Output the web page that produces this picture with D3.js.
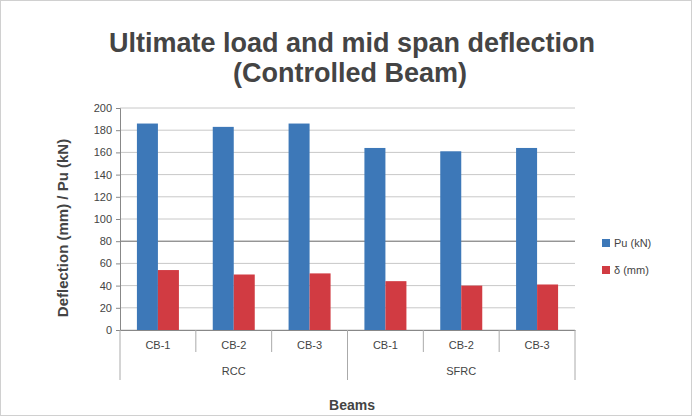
<!DOCTYPE html>
<html><head><meta charset="utf-8">
<script src="https://cdn.jsdelivr.net/npm/d3@7"></script>
<style>body{margin:0;background:#fff;font-family:"Liberation Sans",Arial,sans-serif;}</style>
</head><body><svg id="c" width="693" height="417"></svg>
<script>
const categories = ["CB-1","CB-2","CB-3","CB-1","CB-2","CB-3"];
const groups = ["RCC","SFRC"];
const seriesNames = ["Pu (kN)","\u03B4 (mm)"];
const loadValues = [186,183,186,164,161,164];
const deflValues = [54,50,51,44,40,41];
const yTicks = [0,20,40,60,80,100,120,140,160,180,200];
const colors = ["#3d78b8","#d13b42"];

const svg = d3.select("#c");
svg.append("rect").attr("x",0.5).attr("y",0.5).attr("width",691).attr("height",415)
  .attr("fill","#fff").attr("stroke","#d0d0d0");

const m = {l:120,r:575,t:108,b:330};
const x = d3.scaleBand().domain(d3.range(categories.length)).range([m.l,m.r]).padding(0);
const y = d3.scaleLinear().domain([0,200]).range([m.b,m.t]);
const inner = d3.scaleBand().domain([0,1]).range([0,42]);

// gridlines
svg.append("g").selectAll("line").data(yTicks).join("line")
  .attr("x1",m.l).attr("x2",m.r).attr("y1",d=>y(d)).attr("y2",d=>y(d))
  .attr("stroke",d=>d===80?"#666":"#c8c8c8").attr("stroke-width",1);

// y axis
const ya = svg.append("g").attr("transform",`translate(${m.l},0)`)
  .call(d3.axisLeft(y).tickValues(yTicks).tickSize(4).tickPadding(4));
ya.select(".domain").attr("stroke","#888");
ya.selectAll(".tick line").attr("stroke","#888");
ya.selectAll("text").attr("font-size",11).attr("fill","#444");

// bars
const series = [loadValues, deflValues];
series.forEach((vals,si)=>{
  svg.append("g").selectAll("rect").data(vals).join("rect")
    .attr("x",(d,i)=>x(i)+(x.bandwidth()-42)/2+inner(si))
    .attr("y",d=>y(d)).attr("width",inner.bandwidth()).attr("height",d=>y(0)-y(d))
    .attr("fill",colors[si]);
});

// x axis
const xa = svg.append("g").attr("transform",`translate(0,${m.b})`)
  .call(d3.axisBottom(x).tickFormat(i=>categories[i]).tickSize(0).tickPadding(11));
xa.select(".domain").attr("stroke","#888");
xa.selectAll("text").attr("font-size",11).attr("fill","#444");
// category separators
svg.append("g").selectAll("line").data(d3.range(categories.length+1)).join("line")
  .attr("x1",i=>m.l+i*x.step()).attr("x2",i=>m.l+i*x.step())
  .attr("y1",m.b).attr("y2",i=>(i%3===0)?m.b+50:m.b+22).attr("stroke","#aaa");
// group labels
svg.append("g").selectAll("text").data(groups).join("text")
  .attr("x",(g,gi)=>x(gi*3)+1.5*x.step()).attr("y",m.b+45)
  .attr("text-anchor","middle").attr("font-size",11).attr("fill","#444").text(d=>d);

// axis titles
svg.append("text").attr("x",352).attr("y",410).attr("text-anchor","middle")
  .attr("font-size",14).attr("font-weight","bold").attr("fill","#444").text("Beams");
svg.append("text").attr("transform","translate(68,228) rotate(-90)").attr("text-anchor","middle")
  .attr("font-size",15).attr("font-weight","bold").attr("fill","#444").text("Deflection (mm) / Pu (kN)");

// title
svg.append("text").attr("x",352).attr("y",52).attr("text-anchor","middle")
  .attr("font-size",27).attr("font-weight","bold").attr("fill","#444").text("Ultimate load and mid span deflection");
svg.append("text").attr("x",350).attr("y",82).attr("text-anchor","middle")
  .attr("font-size",27).attr("font-weight","bold").attr("fill","#444").text("(Controlled Beam)");

// legend
const lg = svg.append("g").selectAll("g").data(seriesNames).join("g")
  .attr("transform",(d,i)=>`translate(602,${243+i*27})`);
lg.append("rect").attr("x",0).attr("y",-4).attr("width",8).attr("height",8).attr("fill",(d,i)=>colors[i]);
lg.append("text").attr("x",12).attr("y",4).attr("font-size",11).attr("fill","#444").text(d=>d);
</script></body></html>
